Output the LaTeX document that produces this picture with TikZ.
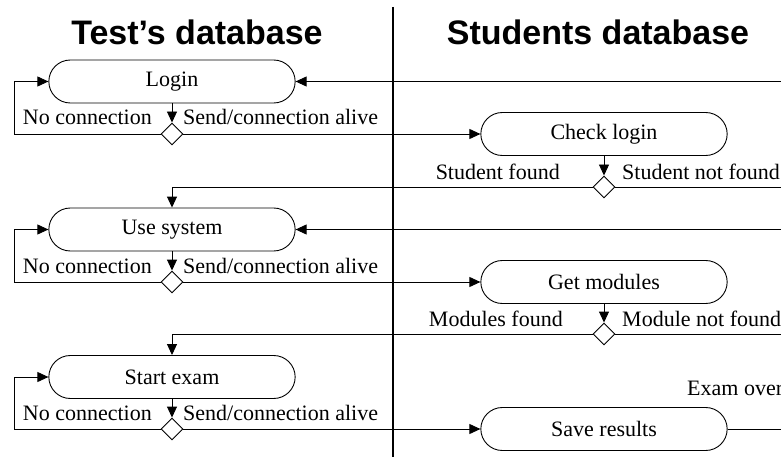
\documentclass[tikz,border=0pt]{standalone}
\usepackage{fontspec}
\setmainfont{Liberation Serif}
\newfontfamily\titlefont{Liberation Sans}
\usetikzlibrary{arrows.meta}
\usetikzlibrary{shapes.misc}
\usetikzlibrary{shapes.geometric}
\tikzstyle{activity}=[%
  draw,
  rounded rectangle,
  line width=0.9pt,
  minimum height=43pt,
  minimum width=253pt,
  font=\fontsize{22}{26}\selectfont
]
\tikzstyle{decision}=[%
  draw,
  diamond,
  line width=0.9pt,
  fill=white,
  inner sep=0pt,
  minimum size=22pt
]
\tikzstyle{flow}=[line width=0.9pt, -{Triangle[length=11pt,width=10pt]}]
\tikzstyle{lbl}=[inner sep=0pt, font=\fontsize{22}{26}\selectfont]
\tikzstyle{lane}=[anchor=base, font=\titlefont\fontsize{34}{40}\selectfont\bfseries]

\begin{document}
\begin{tikzpicture}[x=1pt,y=-1pt]
      \useasboundingbox (0,0) rectangle (781,457);
      \node[lane] (testdb) at (197,45) {Test’s database};
      \node[lane] (studdb) at (598,45) {Students database};
      \draw[line width=2pt] (393,7) -- (393,457);
      \node[activity] (login) at (172, 81.5) {Login};
      \node[activity] (use) at (172, 229.5) {Use system};
      \node[activity] (start) at (172, 377) {Start exam};
      \node[activity] (check) at (604, 134) {Check login};
      \node[activity] (getmod) at (604, 282) {Get modules};
      \node[activity] (save) at (604, 429) {Save results};
      \node[decision] (d1) at (172, 134) {};
      \node[decision] (d3) at (172, 282) {};
      \node[decision] (d5) at (172, 429) {};
      \node[decision] (d2) at (604, 187) {};
      \node[decision] (d4) at (604, 334) {};
      \coordinate (back) at (14, 0);
      \coordinate (edge1) at (785, 81.5);
      \coordinate (edge2) at (785, 229.5);
      \coordinate (edge3) at (785, 187);
      \coordinate (edge4) at (785, 334);
      \coordinate (edge5) at (785, 429);
      \foreach \act/\dec/\next in {login/d1/check, use/d3/getmod, start/d5/save} {%
        \draw[flow] (\act.south) -- (\dec.north);
        \draw[flow] (\dec.west) -| (back |- \act.west) -- (\act.west);
        \draw[flow] (\dec.east) -- (\next.west);
        \node[lbl, anchor=base east] (\dec-no) at ([xshift=-20pt, yshift=9pt]\dec.center) {No connection};
        \node[lbl, anchor=base west] (\dec-yes) at ([xshift=11pt, yshift=9pt]\dec.center) {Send/connection alive};
      }
      \draw[flow] (check.south) -- (d2.north);
      \draw[flow] (getmod.south) -- (d4.north);
      \draw[flow] (d2.west) -| (use.north);
      \draw[flow] (d4.west) -| (start.north);
      \draw[line width=0.9pt] (d2.east) -- (edge3);
      \draw[line width=0.9pt] (d4.east) -- (edge4);
      \draw[line width=0.9pt] (save.east) -- (edge5);
      \draw[flow] (edge1) -- (login.east);
      \draw[flow] (edge2) -- (use.east);
      \node[lbl, anchor=base east] (d2-yes) at ([xshift=-44pt, yshift=7pt]d2.center) {Student found};
      \node[lbl, anchor=base west] (d2-no) at ([xshift=18pt, yshift=7pt]d2.center) {Student not found};
      \node[lbl, anchor=base east] (d4-yes) at ([xshift=-41pt, yshift=8pt]d4.center) {Modules found};
      \node[lbl, anchor=base west] (d4-no) at ([xshift=18pt, yshift=8pt]d4.center) {Module not found};
      \node[lbl, anchor=base west] (examover) at (687, 395) {Exam over};
    \end{tikzpicture}
\end{document}
